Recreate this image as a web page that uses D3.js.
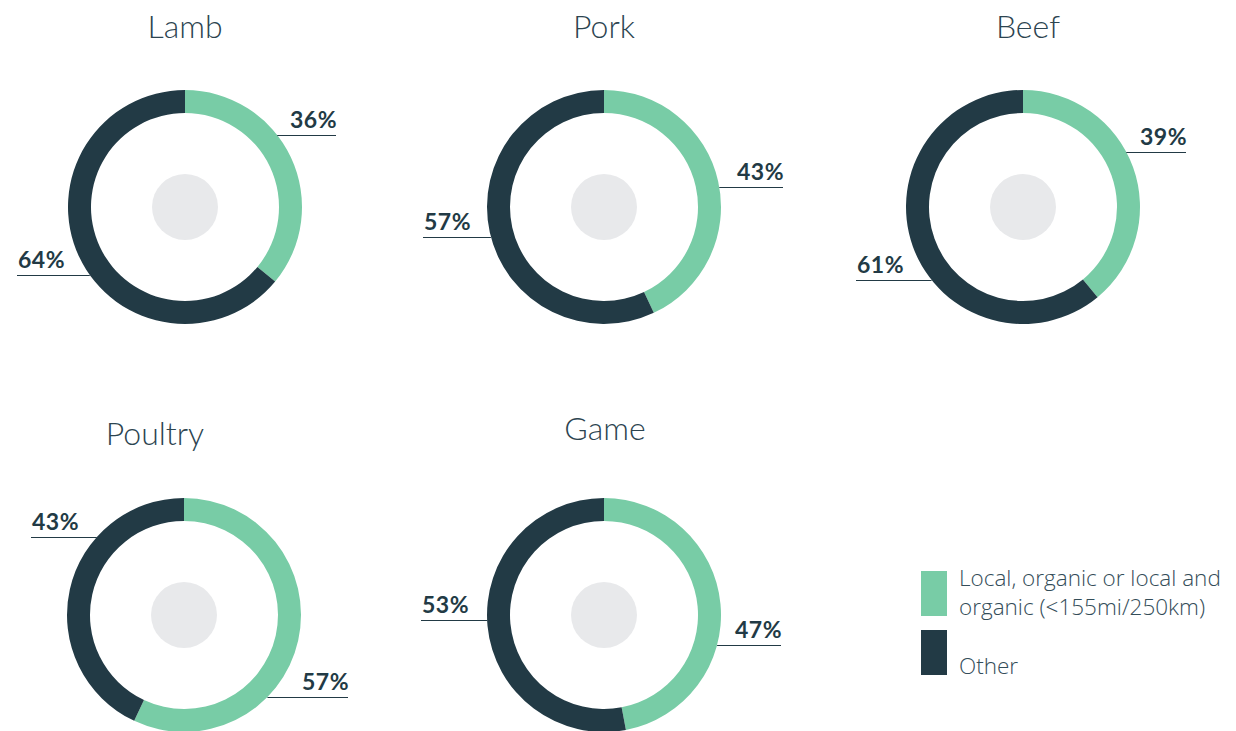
<!DOCTYPE html>
<html lang="en">
<head>
<meta charset="UTF-8">
<title>Meat sourcing</title>
<script src="https://d3js.org/d3.v7.min.js"></script>
<style>
body { margin: 0; background: #fff; overflow: hidden; }
text { font-family: "Lato", "Open Sans", sans-serif; }
.title { font-size: 32px; font-weight: 300; fill: #2c4450; }
.pct { font-size: 23px; font-weight: 700; fill: #223a45; letter-spacing: 0.5px; }
.legend-label { font-family: "Open Sans", sans-serif; font-size: 22.5px; font-weight: 300; fill: #344d59; }
</style>
</head>
<body>
<svg width="1236" height="731"></svg>
<script>
// data
const categories = ['Lamb', 'Pork', 'Beef', 'Poultry', 'Game'];
const localShare = [36, 43, 39, 57, 47];
const otherShare = [64, 57, 61, 43, 53];
const seriesNames = ['Local, organic or local and organic (<155mi/250km)', 'Other'];
const legendLines = [['Local, organic or local and', 'organic (<155mi/250km)'], ['', 'Other']];

// layout (per category): panel centre, title position, label leader lines
const panelX = [185, 604, 1023, 184, 604];
const panelY = [207, 207, 207, 615, 615];
const titleDX = [0, 0, 5, -29, 1];
const titleY = [38, 38, 38, 445, 440];
// leader line: vertical offset from centre and end offset (local, other)
const localLine = [[-72, 151], [-20, 179], [-55, 163], [82, 164], [30, 177]];
const otherLine = [[68, -168], [30, -181], [73, -167], [-78, -153], [5, -183]];

const colors = ['#78cca6', '#223a45'];
const outerR = 117, innerR = 94, hubR = 33;

const svg = d3.select('svg');

const pie = d3.pie().sort(null).value(d => d);
const arc = d3.arc().innerRadius(innerR).outerRadius(outerR);
const color = d3.scaleOrdinal().domain(seriesNames).range(colors);

categories.forEach((cat, i) => {
  const g = svg.append('g')
    .attr('transform', `translate(${panelX[i]},${panelY[i]})`);

  svg.append('text')
    .attr('class', 'title')
    .attr('x', panelX[i] + titleDX[i])
    .attr('y', titleY[i])
    .attr('text-anchor', 'middle')
    .text(cat);

  const arcs = pie([localShare[i], otherShare[i]]);
  g.selectAll('path').data(arcs).enter().append('path')
    .attr('d', arc)
    .attr('fill', (d, j) => color(seriesNames[j]));

  g.append('circle').attr('r', hubR).attr('fill', '#e8e9eb');

  // labels with leader lines
  const labels = [
    { v: localShare[i], line: localLine[i] },
    { v: otherShare[i], line: otherLine[i] }
  ];
  labels.forEach(l => {
    const dy = l.line[0], end = l.line[1];
    const side = end > 0 ? 1 : -1;
    const x0 = side * Math.sqrt(outerR * outerR - dy * dy);
    g.append('line')
      .attr('x1', x0).attr('x2', end)
      .attr('y1', dy + 0.5).attr('y2', dy + 0.5)
      .attr('stroke', '#223a45')
      .attr('stroke-width', 1);
    g.append('text')
      .attr('class', 'pct')
      .attr('x', end + (side > 0 ? 1 : 1))
      .attr('y', dy - 7)
      .attr('text-anchor', side > 0 ? 'end' : 'start')
      .text(l.v + '%');
  });
});

// legend
const legend = svg.append('g').attr('transform', 'translate(921,571)');
seriesNames.forEach((name, j) => {
  const lg = legend.append('g').attr('transform', `translate(0,${j * 59})`);
  lg.append('rect')
    .attr('width', 26).attr('height', 45)
    .attr('fill', color(name));
  legendLines[j].forEach((t, k) => {
    lg.append('text')
      .attr('class', 'legend-label')
      .attr('x', 38)
      .attr('y', 15 + k * 29)
      .text(t);
  });
});
</script>
</body>
</html>
